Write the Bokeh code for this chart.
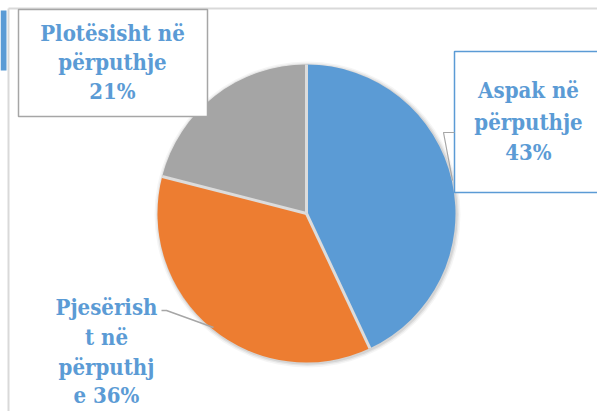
import math
from bokeh.plotting import figure
from bokeh.models import Range1d, ColumnDataSource
from bokeh.core.properties import value
from bokeh.embed import file_html
from bokeh.resources import INLINE

# ---- data ----
categories = ["Aspak në përputhje", "Pjesërisht në përputhje", "Plotësisht në përputhje"]
values = [43, 36, 21]
colors = ["#5b9bd5", "#ed7d31", "#a5a5a5"]
label_lines = [
    ["Aspak në", "përputhje", "43%"],
    ["Pjesërish", "t në", "përputhj", "e 36%"],
    ["Plotësisht në", "përputhje", "21%"],
]

W, H = 597, 411


def fx(xr):
    return xr


def fy(yr):
    return H - yr


p = figure(width=W, height=H, output_backend="svg", toolbar_location=None,
           x_range=Range1d(0, W), y_range=Range1d(0, H), min_border=0)
p.axis.visible = False
p.grid.visible = False
p.outline_line_color = None
p.background_fill_color = "white"

# frame lines (top and left) and the blue side strip
p.segment(x0=[8, 8], y0=[fy(8), fy(8)], x1=[W, 8], y1=[fy(8), 0],
          line_color="#d9d9d9", line_width=2)
p.quad(left=[0], right=[6], top=[fy(10)], bottom=[fy(70)],
       fill_color="#5b9bd5", line_color=None)

cx, cy, r = fx(306), fy(213), 149

# soft shadow
for dr, a in [(4, 0.04), (2.5, 0.06), (1.2, 0.08)]:
    p.circle(x=[cx + 1], y=[cy - 1], radius=r + dr, fill_color="black",
             fill_alpha=a, line_color=None)

total = sum(values)
starts, ends = [], []
acc = 0.0
for v in values:
    starts.append(math.pi / 2 - 2 * math.pi * acc / total)
    acc += v
    ends.append(math.pi / 2 - 2 * math.pi * acc / total)

src = ColumnDataSource(dict(cat=categories, val=values, color=colors,
                            start=starts, end=ends))
p.wedge(x=cx, y=cy, radius=r, start_angle="start", end_angle="end",
        direction="clock", fill_color="color", line_color=None, source=src)

# separators
p.segment(x0=[cx] * 3, y0=[cy] * 3,
          x1=[cx + r * math.cos(a) for a in starts],
          y1=[cy + r * math.sin(a) for a in starts],
          line_color="#dcdcdc", line_width=3)

# label boxes
p.quad(left=[fx(18)], right=[fx(207)], top=[fy(9)], bottom=[fy(116)],
       fill_color="white", line_color="#a6a6a6", line_width=1.5)
p.quad(left=[fx(454)], right=[fx(601)], top=[fy(51)], bottom=[fy(192)],
       fill_color="white", line_color="#5b9bd5", line_width=1.5)

# leader lines
p.line(x=[fx(454), fx(443), fx(452)], y=[fy(132), fy(132), fy(180)],
       line_color="#a6a6a6", line_width=1.2)
p.line(x=[fx(161), fx(166), fx(213)], y=[fy(310), fy(310), fy(327)],
       line_color="#a6a6a6", line_width=1.5)

# label texts (vertical middle of each line)
label_pos = [(528, [89, 121, 151]), (106, [306, 336, 366, 394]), (112, [32, 61, 90])]
tx, ty, tt = [], [], []
for (xc, ys), lines in zip(label_pos, label_lines):
    for yb, t in zip(ys, lines):
        tx.append(fx(xc))
        ty.append(fy(yb))
        tt.append(t)
p.text(x=tx, y=ty, text=tt, text_align="center", text_baseline="middle",
       text_font=value("DejaVu Serif Condensed"), text_font_style="bold",
       text_font_size="22px", text_color="#5b9bd5")

open("out.html", "w").write(file_html(p, INLINE))
